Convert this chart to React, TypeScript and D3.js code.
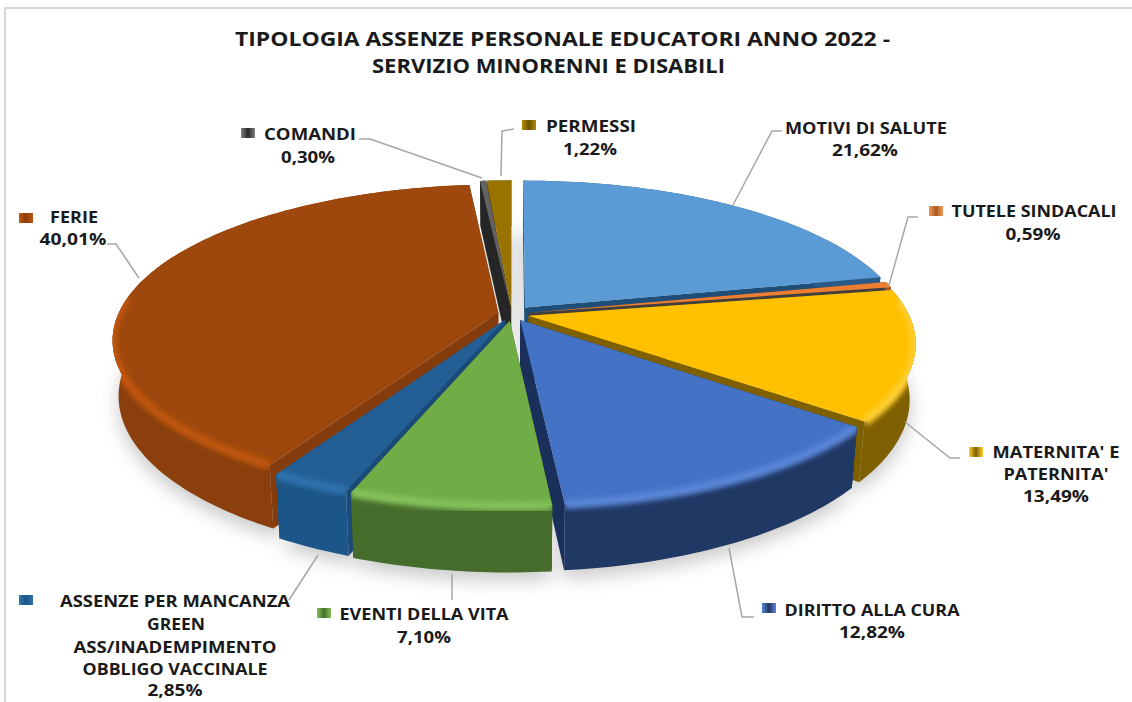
import React from 'react';
import * as d3 from 'd3';

const names = ['MOTIVI DI SALUTE', 'TUTELE SINDACALI', "MATERNITA' E PATERNITA'", 'DIRITTO ALLA CURA', 'EVENTI DELLA VITA', 'ASSENZE PER MANCANZA GREEN ASS/INADEMPIMENTO OBBLIGO VACCINALE', 'FERIE', 'COMANDI', 'PERMESSI'];
const values = [21.62, 0.59, 13.49, 12.82, 7.1, 2.85, 40.01, 0.3, 1.22];
const topColors = ['#5b9bd5', '#ed7d31', '#ffc000', '#4472c4', '#70ad47', '#235f95', '#9e480e', '#636363', '#997300'];
const wallColors = ['#2a5a86', '#a85a22', '#7f6000', '#203864', '#466c2c', '#1c5587', '#8a3f0d', '#262626', '#6b5200'];
const cutColors = ['#1f4e79', '#3f3f3f', '#7f6000', '#1a2f5a', '#385723', '#1a4a78', '#843c0c', '#262626', '#7f6000'];
const rimColors = ['#7db3e6', '#f5995a', '#ffcf33', '#5a86d8', '#84c25a', '#2f72ad', '#c0560f', '#808080', '#b88c00'];
const explode = [0.055, 0.045, 0.045, 0.045, 0.045, 0.04, 0.037, 0.045, 0.045];
const drawOrder = [8, 7, 0, 1, 6, 2, 5, 3, 4];

const titleLines = [
  { t: 'TIPOLOGIA ASSENZE PERSONALE EDUCATORI ANNO 2022 -', x: 562.5, y: 46, w: 655 },
  { t: 'SERVIZIO MINORENNI E DISABILI', x: 548.5, y: 73, w: 353 },
];

const cx = 512, cy = 314, R = 380, S = 151, K = 0.173;

const project = (u: number, v: number) => {
  const d = 1 - K * v;
  return { x: cx + (R * u) / d, y: cy + (S * v) / d, depth: 54 / d, d };
};
const lower = (p: { x: number; y: number; depth: number }) => [cx + (p.x - cx) * 0.985, p.y + p.depth] as [number, number];
const upper = (p: { x: number; y: number }) => [p.x, p.y] as [number, number];
const line = d3.line();

const labels = [
  { key: [929, 206], lines: [{ t: 'TUTELE SINDACALI', x: 1034, y: 217, w: 165 }, { t: '0,59%', x: 1033, y: 240, w: 55 }], leader: [[918, 217], [908, 217], [889, 285]], i: 1 },
  { key: null, lines: [{ t: 'MOTIVI DI SALUTE', x: 866, y: 134, w: 162 }, { t: '21,62%', x: 865, y: 156, w: 66 }], leader: [[782, 131], [772, 131], [733, 205]], i: 0 },
  { key: [522, 120], lines: [{ t: 'PERMESSI', x: 591, y: 132, w: 90 }, { t: '1,22%', x: 590, y: 155, w: 54 }], leader: [[514, 129], [502, 131], [501, 176]], i: 8 },
  { key: [241, 128], lines: [{ t: 'COMANDI', x: 310, y: 140, w: 92 }, { t: '0,30%', x: 308, y: 163, w: 54 }], leader: [[359, 139], [370, 139], [482, 178]], i: 7 },
  { key: [19, 213], lines: [{ t: 'FERIE', x: 74, y: 223, w: 48 }, { t: '40,01%', x: 73, y: 245, w: 67 }], leader: [[107, 244], [116, 244], [139, 278]], i: 6 },
  { key: [969, 447], lines: [{ t: "MATERNITA' E", x: 1056, y: 458, w: 127 }, { t: "PATERNITA'", x: 1056, y: 480, w: 105 }, { t: '13,49%', x: 1056, y: 502, w: 66 }], leader: [[905, 422], [950, 458], [960, 458]], i: 2 },
  { key: [762, 603], lines: [{ t: 'DIRITTO ALLA CURA', x: 872, y: 616, w: 175 }, { t: '12,82%', x: 872, y: 638, w: 66 }], leader: [[729, 548], [742, 617], [754, 617]], i: 3 },
  { key: [317, 608], lines: [{ t: 'EVENTI DELLA VITA', x: 424, y: 620, w: 169 }, { t: '7,10%', x: 424, y: 643, w: 54 }], leader: [[452, 574], [452, 600]], i: 4 },
  { key: [19, 595], lines: [{ t: 'ASSENZE PER MANCANZA', x: 175, y: 607, w: 230 }, { t: 'GREEN', x: 176, y: 630, w: 58 }, { t: 'ASS/INADEMPIMENTO', x: 175, y: 653, w: 203 }, { t: 'OBBLIGO VACCINALE', x: 175, y: 675, w: 185 }, { t: '2,85%', x: 175, y: 696, w: 55 }], leader: [[318, 555], [289, 600]], i: 5 },
];

export default function App() {
  const arcs = d3.pie<number>().sort(null).value((d) => d)(values);
  const slices = arcs.map((a, i) => {
    const mid = (a.startAngle + a.endAngle) / 2;
    const ox = Math.sin(mid) * explode[i];
    const oy = -Math.cos(mid) * explode[i];
    const n = Math.max(2, Math.ceil((a.endAngle - a.startAngle) / 0.02));
    const angles = d3.range(n + 1).map((k) => a.startAngle + ((a.endAngle - a.startAngle) * k) / n);
    const rim = angles.map((t) => ({ t, v: oy - Math.cos(t), p: project(ox + Math.sin(t), oy - Math.cos(t)) }));
    const apex = project(ox, oy);
    const top = line([upper(apex), ...rim.map((r) => upper(r.p))]) + 'Z';
    const rimPts = rim.map((r) => r.p);
    const wall = line([...rimPts.map(upper), ...rimPts.slice().reverse().map(lower)]) + 'Z';
    const startP = rimPts[0];
    const endP = rimPts[rimPts.length - 1];
    const cutA = line([upper(apex), upper(startP), lower(startP), lower(apex)]) + 'Z';
    const cutB = line([upper(apex), upper(endP), lower(endP), lower(apex)]) + 'Z';
    const bottom = line([lower(apex), ...rimPts.map(lower)]) + 'Z';
    const frontRim = rim.filter((r) => r.v > -0.12);
    const rimPath = frontRim.length > 1 ? line(frontRim.map((r) => upper(r.p))) : null;
    return { i, top, wall, cutA, cutB, bottom, rimPath };
  });

  return (
    <svg width={1132} height={702} style={{ position: 'absolute', left: 0, top: 0, background: '#fff' }}>
      <defs>
        <filter id="blurS" x="-20%" y="-20%" width="140%" height="140%"><feGaussianBlur stdDeviation="9" /></filter>
        <filter id="blurR" x="-10%" y="-30%" width="120%" height="160%"><feGaussianBlur stdDeviation="2.6" /></filter>
        {slices.map((s) => (
          <clipPath id={`clip${s.i}`} key={s.i}><path d={s.top} /><path d={s.wall} /></clipPath>
        ))}
        {labels.filter((l) => l.key).map((l) => (
          <linearGradient id={`key${l.i}`} key={l.i} x1="0" x2="1" y1="0" y2="0">
            <stop offset="0" stopColor={rimColors[l.i]} />
            <stop offset="0.5" stopColor={wallColors[l.i]} />
            <stop offset="1" stopColor={rimColors[l.i]} />
          </linearGradient>
        ))}
      </defs>
      <rect x={0} y={0} width={1132} height={702} fill="#fff" />
      <path d="M5 702V8H1132" fill="none" stroke="#d6d6d6" strokeWidth={2} />
      <g filter="url(#blurS)" opacity={0.45} transform="translate(0,8)">
        {slices.map((s) => <path key={s.i} d={s.bottom} fill="#888" />)}
      </g>
      {drawOrder.map((i) => {
        const s = slices[i];
        return (
          <g key={i}>
            <path d={s.cutA} fill={cutColors[i]} />
            <path d={s.cutB} fill={cutColors[i]} />
            <path d={s.wall} fill={wallColors[i]} />
            <path d={s.top} fill={topColors[i]} />
            {s.rimPath && (
              <g clipPath={`url(#clip${i})`}>
                <path d={s.rimPath} fill="none" stroke={rimColors[i]} strokeWidth={9} filter="url(#blurR)" />
              </g>
            )}
          </g>
        );
      })}
      <g fontFamily="'Open Sans', sans-serif" fontWeight={700} fill="#1a1a1a" textAnchor="middle">
        {titleLines.map((t) => (
          <text key={t.t} x={t.x} y={t.y} fontSize={19.5} textLength={t.w} lengthAdjust="spacingAndGlyphs">{t.t}</text>
        ))}
        {labels.map((l) => (
          <g key={l.i}>
            <path d={line(l.leader as [number, number][]) as string} fill="none" stroke="#a6a6a6" strokeWidth={1.5} />
            {l.key && <rect x={l.key[0]} y={l.key[1]} width={14} height={10} fill={`url(#key${l.i})`} />}
            {l.lines.map((t) => (
              <text key={t.t} x={t.x} y={t.y} fontSize={16.2} textLength={t.w} lengthAdjust="spacingAndGlyphs">{t.t}</text>
            ))}
          </g>
        ))}
      </g>
    </svg>
  );
}
